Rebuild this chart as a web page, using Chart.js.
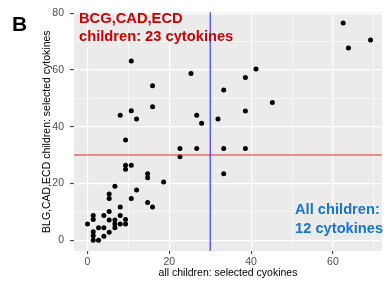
<!DOCTYPE html>
<html>
<head>
<meta charset="utf-8">
<script src="https://cdn.jsdelivr.net/npm/chart.js@4/dist/chart.umd.min.js"></script>
<style>
    html, body { margin: 0; padding: 0; background: #ffffff; }
    #wrap { position: relative; width: 386px; height: 282px; }
</style>
</head>
<body>
<div id="wrap"><canvas id="scatter" width="386" height="282"></canvas></div>
<script>
// all children (x) vs BLG,CAD,ECD children (y), selected cytokines
const allChildren = [
    0, 1.4, 1.4, 1.4, 1.4, 1.4, 2.7, 2.7, 4.0, 4.0,
    4.0, 5.3, 5.3, 5.3, 5.3, 5.3, 6.7, 6.7, 6.7, 6.7,
    8.0, 8.0, 8.0, 8.0, 9.3, 9.3, 9.3, 9.3, 9.3, 10.7,
    10.7, 10.7, 10.7, 12.0, 12.0, 14.7, 14.7, 14.7, 15.9, 15.9,
    15.9, 18.6, 22.6, 22.6, 25.3, 26.7, 26.7, 27.9, 31.9, 33.3,
    33.3, 33.3, 38.6, 38.6, 38.6, 41.2, 45.2, 62.5, 63.8, 69.2,
];
const subsetChildren = [
    5.7, 8.7, 7.3, 3.0, 1.6, 0, 0, 4.4, 8.7, 4.4,
    1.4, 2.8, 7.1, 10.1, 16.3, 14.7, 19.0, 7.1, 5.7, 4.4,
    11.7, 8.7, 5.7, 44.0, 7.3, 5.7, 35.3, 26.4, 25.0, 63.1,
    45.6, 26.4, 14.7, 42.7, 17.7, 23.4, 22.0, 13.3, 54.4, 47.0,
    11.7, 20.5, 32.3, 29.4, 58.7, 44.0, 32.3, 41.2, 42.7, 52.9,
    32.3, 23.4, 57.3, 45.5, 32.3, 60.3, 48.5, 76.5, 67.7, 70.5,
];
const xTickLabels = [0, 20, 40, 60];
const yTickLabels = [0, 20, 40, 60, 80];
const cutoffX = 30;
const cutoffY = 30;
const topLeftNote = ["BCG,CAD,ECD", "children: 23 cytokines"];
const bottomRightNote = ["All children:", "12 cytokines"];

const FONT = "'Liberation Sans', Arial, Helvetica, sans-serif";
const TICK_GRAY = "#4d4d4d";

function isMajor(v) {
    return Math.abs(v % 20) < 1e-6;
}

const panelPlugin = {
    id: "panel",
    beforeDraw(chart) {
        const { ctx, chartArea: a } = chart;
        ctx.save();
        ctx.fillStyle = "#ebebeb";
        ctx.fillRect(a.left, a.top, a.right - a.left, a.bottom - a.top);
        ctx.restore();
    },
    afterDatasetsDraw(chart) {
        const { ctx, chartArea: a, scales } = chart;
        const px = scales.x.getPixelForValue(cutoffX);
        const py = scales.y.getPixelForValue(cutoffY);
        ctx.save();
        ctx.lineWidth = 1.1;
        ctx.strokeStyle = "#e82525";
        ctx.beginPath();
        ctx.moveTo(a.left, py);
        ctx.lineTo(a.right, py);
        ctx.stroke();
        ctx.strokeStyle = "#2a2ae0";
        ctx.beginPath();
        ctx.moveTo(px, a.top);
        ctx.lineTo(px, a.bottom);
        ctx.stroke();
        ctx.restore();
    },
    afterDraw(chart) {
        const { ctx } = chart;
        ctx.save();
        ctx.textBaseline = "middle";
        ctx.textAlign = "left";
        ctx.font = `bold 14.7px ${FONT}`;
        ctx.fillStyle = "#cd0000";
        ctx.fillText(topLeftNote[0], 79, 19);
        ctx.fillText(topLeftNote[1], 79, 36.5);
        ctx.fillStyle = "#1874cd";
        ctx.fillText(bottomRightNote[0], 295, 210);
        ctx.fillText(bottomRightNote[1], 295, 228.5);
        // panel letter
        ctx.fillStyle = "#000000";
        ctx.font = `bold 21px ${FONT}`;
        ctx.fillText("B", 12, 25);
        ctx.restore();
    },
};

const gridOpts = {
    color: "#ffffff",
    lineWidth: (c) => (c.tick && isMajor(c.tick.value) ? 1.2 : 0.6),
    tickColor: (c) => (c.tick && isMajor(c.tick.value) ? "#333333" : "rgba(0,0,0,0)"),
    tickWidth: 1,
};

new Chart(document.getElementById("scatter"), {
    type: "scatter",
    data: {
        datasets: [{
            data: allChildren.map((x, i) => ({ x, y: subsetChildren[i] })),
            backgroundColor: "#000000",
            borderColor: "#000000",
            pointRadius: 2.5,
            pointBorderWidth: 0,
        }],
    },
    options: {
        responsive: false,
        animation: false,
        events: [],
        layout: { padding: { top: 7, right: 0, bottom: 0, left: 0 } },
        plugins: { legend: { display: false }, tooltip: { enabled: false } },
        scales: {
            x: {
                type: "linear",
                min: -3.3,
                max: 72,
                border: { display: false },
                grid: { ...gridOpts, tickLength: 3 },
                ticks: {
                    stepSize: 10,
                    includeBounds: false,
                    padding: 1.5,
                    color: TICK_GRAY,
                    font: { family: FONT, size: 10.5 },
                    maxRotation: 0,
                    autoSkip: false,
                    callback: (v) => (xTickLabels.includes(v) ? String(v) : ""),
                },
                title: {
                    display: true,
                    text: "all children: selected cyokines",
                    color: "#000000",
                    font: { family: FONT, size: 10.5 },
                    padding: { top: 0, bottom: 3 },
                },
                afterFit(scale) { scale.height = 31; },
            },
            y: {
                type: "linear",
                min: -3.8,
                max: 80.3,
                border: { display: false },
                grid: { ...gridOpts, tickLength: 4 },
                ticks: {
                    stepSize: 10,
                    includeBounds: false,
                    padding: 6,
                    color: TICK_GRAY,
                    font: { family: FONT, size: 10.5 },
                    autoSkip: false,
                    callback: (v) => (yTickLabels.includes(v) ? String(v) : ""),
                },
                title: {
                    display: true,
                    text: "BLG,CAD,ECD children: selected cytokines",
                    color: "#000000",
                    font: { family: FONT, size: 10.5 },
                    padding: { top: 40.7, bottom: 0 },
                },
                afterFit(scale) { scale.width = 74; },
            },
        },
    },
    plugins: [panelPlugin],
});
</script>
</body>
</html>
